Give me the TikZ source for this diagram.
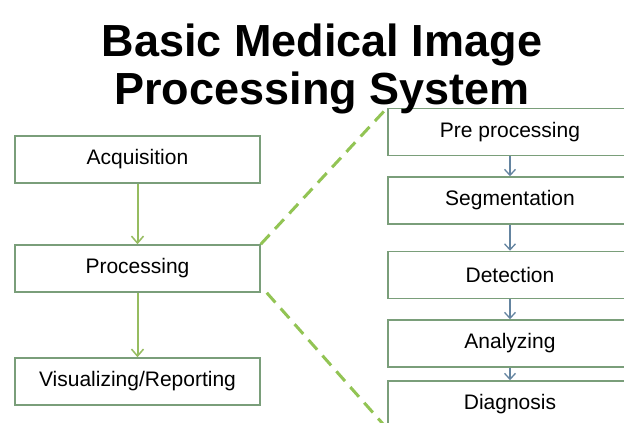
\documentclass[tikz,border=0pt]{standalone}
\usepackage{fontspec}
\setmainfont{Liberation Sans}
\usepackage{xcolor}
\usetikzlibrary{arrows.meta}
\definecolor{boxgreen}{RGB}{122,158,122}
\definecolor{arrgreen}{RGB}{150,188,96}
\definecolor{dashgreen}{RGB}{146,196,84}
\definecolor{arrblue}{RGB}{100,132,160}
\tikzset{stage/.style = {draw=boxgreen, line width=1.5pt, fill=white,
                         minimum height=47pt, inner sep=0pt,
                         font=\fontsize{21}{24}\selectfont}}
\tikzset{leftstage/.style = {stage, minimum width=245pt}}
\tikzset{rightstage/.style = {stage, minimum width=244pt}}
\tikzset{garrow/.style = {draw=arrgreen, line width=2pt,
                          -{Straight Barb[length=7pt,width=12pt,line width=1.5pt]}}}
\tikzset{barrow/.style = {draw=arrblue, line width=1.5pt,
                          -{Straight Barb[length=6pt,width=11pt,line width=1.3pt]}}}
\tikzset{zoomline/.style = {draw=dashgreen, line width=3pt,
                            dash pattern=on 13pt off 8pt}}

\begin{document}
\begin{tikzpicture}[x=1pt,y=-1pt]
      \clip (0,0) rectangle (624,423);
      \fill[white] (0,0) rectangle (624,423);
      % main chain
      \node[leftstage] (acq) at (137.5,159.5) {Acquisition};
      \node[leftstage] (proc) at (137.5,268.5) {Processing};
      \node[leftstage] (vis) at (137.5,381.5) {Visualizing/Reporting};
      \draw[garrow] (acq) -- (proc);
      \draw[garrow] (proc) -- (vis);
      % processing steps
      \node[rightstage] (pre) at (510,132) {Pre processing};
      \node[rightstage] (seg) at (510,200.5) {Segmentation};
      \node[rightstage] (det) at (510,275) {Detection};
      \node[rightstage] (ana) at (510,343.5) {Analyzing};
      \node[rightstage] (diag) at (510,404.5) {Diagnosis};
      \draw[barrow] (pre) -- (seg);
      \draw[barrow] (seg) -- (det);
      \draw[barrow] (det) -- (ana);
      \draw[barrow] (ana) -- (diag);
      % zoom lines
      \draw[zoomline] (proc.north east) -- (pre.north west);
      \draw[zoomline] ([xshift=6pt]proc.south east) -- (diag.south west);
      \node[font=\fontsize{45}{48}\selectfont\bfseries, align=center]
        (title) at (322,69) {Basic Medical Image\\Processing System};
    \end{tikzpicture}
\end{document}
